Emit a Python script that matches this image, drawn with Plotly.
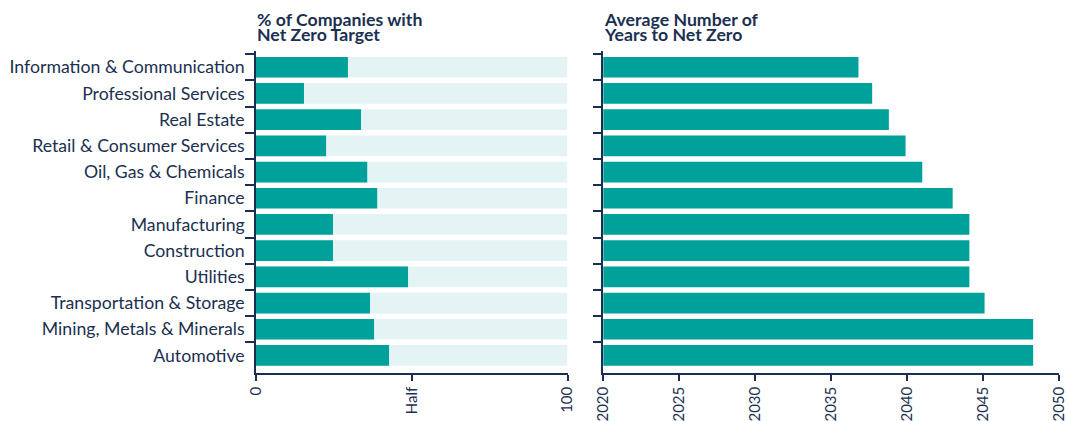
import plotly.graph_objects as go

categories = [
    "Information & Communication",
    "Professional Services",
    "Real Estate",
    "Retail & Consumer Services",
    "Oil, Gas & Chemicals",
    "Finance",
    "Manufacturing",
    "Construction",
    "Utilities",
    "Transportation & Storage",
    "Mining, Metals & Minerals",
    "Automotive",
]
pct_net_zero = [29.5, 15.4, 33.7, 22.5, 35.7, 38.9, 24.7, 24.7, 48.8, 36.6, 37.9, 42.7]
pct_full = [100] * len(categories)
year_net_zero = [2036.8, 2037.7, 2038.8, 2039.9, 2041.0, 2043.0, 2044.1, 2044.1, 2044.1, 2045.1, 2048.3, 2048.3]
left_tickvals = [0, 50, 100]
left_ticktext = ["0", "Half", "100"]
right_tickvals = [2020, 2025, 2030, 2035, 2040, 2045, 2050]

TEAL = "#00a19a"
LIGHT = "#e4f4f4"
NAVY = "#1b3050"
FONT = "Lato"

fig = go.Figure()
fig.add_trace(go.Bar(y=categories, x=pct_full, orientation="h", marker=dict(color=LIGHT, line_width=0),
                     xaxis="x", yaxis="y", showlegend=False, hoverinfo="skip"))
fig.add_trace(go.Bar(y=categories, x=pct_net_zero, orientation="h", marker=dict(color=TEAL, line_width=0),
                     xaxis="x", yaxis="y", showlegend=False))
fig.add_trace(go.Bar(y=categories, x=year_net_zero, orientation="h", marker=dict(color=TEAL, line_width=0),
                     xaxis="x2", yaxis="y2", showlegend=False))

yrange = [len(categories) - 1 + 0.67, -0.62]
axis_common = dict(showline=True, linecolor=NAVY, linewidth=1.5, ticks="outside", tickcolor=NAVY,
                   tickwidth=1.5, showgrid=False, zeroline=False, automargin=False)

fig.update_layout(
    width=1068, height=421,
    margin=dict(l=256, r=9, t=51, b=48),
    paper_bgcolor="white", plot_bgcolor="white",
    barmode="overlay", bargap=0.21,
    font=dict(family=FONT, color=NAVY, size=17),
    xaxis=dict(domain=[0, 0.388], range=[0, 100], tickvals=left_tickvals, ticktext=left_ticktext,
               tickangle=-90, ticklen=6, anchor="y", tickfont=dict(size=15), **axis_common),
    yaxis=dict(domain=[0, 1], range=yrange, type="category", categoryarray=categories,
               tickson="boundaries", ticklen=9, anchor="x", tickfont=dict(size=17.7),
               ticklabelstandoff=6, **axis_common),
    xaxis2=dict(domain=[0.4325, 1], range=[2020, 2050], tickvals=right_tickvals,
                tickangle=-90, ticklen=6, anchor="y2", tickfont=dict(size=15), **axis_common),
    yaxis2=dict(domain=[0, 1], range=yrange, type="category", categoryarray=categories,
                tickson="boundaries", ticklen=9, anchor="x2", showticklabels=False, **axis_common),
)

title_font = dict(family=FONT, size=17.7, color=NAVY)
titles = [
    (0.0, ["% of Companies with", "Net Zero Target"]),
    (0.4325, ["Average Number of", "Years to Net Zero"]),
]
for xpos, lines in titles:
    for i, line in enumerate(lines):
        fig.add_annotation(text="<b>%s</b>" % line, xref="paper", yref="paper", x=xpos, xanchor="left",
                           y=1 + (32 - 16 * i) / 322.0, yanchor="middle", showarrow=False,
                           font=title_font, xshift=-1)

fig.write_html("out.html", config={"displayModeBar": False},
               post_script="document.body.style.margin='0';document.body.style.overflow='hidden';")
